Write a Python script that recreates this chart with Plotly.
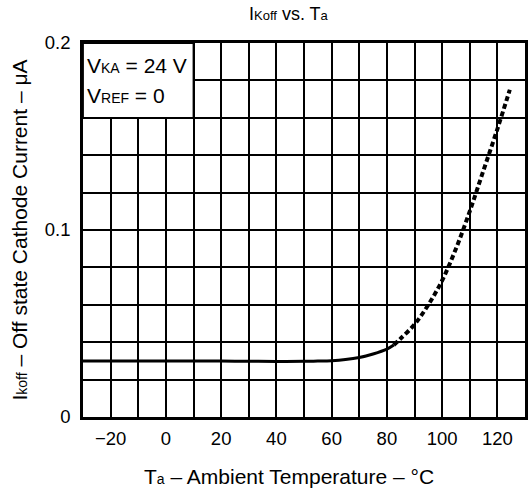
import plotly.graph_objects as go

# Data
temp_solid = [-30, -20, -10, 0, 10, 20, 30, 40, 50, 55, 60, 65, 70, 75, 80, 82.5]
ikoff_solid = [0.030, 0.030, 0.030, 0.030, 0.030, 0.0299, 0.0298, 0.0297, 0.0298, 0.0299,
               0.0301, 0.0307, 0.0318, 0.0337, 0.0363, 0.0385]
temp_dash = [82.5, 85, 90, 95, 100, 105, 110, 115, 120, 124.5]
ikoff_dash = [0.0385, 0.0420, 0.0495, 0.0600, 0.0730, 0.0900, 0.1100, 0.1320, 0.1540, 0.1750]

x_grid = [-30, -20, -10, 0, 10, 20, 30, 40, 50, 60, 70, 80, 90, 100, 110, 120, 130]
x_labels = ["", "\u221220", "", "0", "", "20", "", "40", "", "60", "", "80", "", "100", "", "120", ""]
y_grid = [0, 0.02, 0.04, 0.06, 0.08, 0.1, 0.12, 0.14, 0.16, 0.18, 0.2]
y_labels = ["0", "", "", "", "", "0.1", "", "", "", "", "0.2"]

FONT = "Liberation Sans, Arial, sans-serif"
SUB = "<span style='font-size:%dpx'>%s</span>"

L, R, T, B = 83, 2, 43, 78
W, H = 530, 495
PW = W - L - R

fig = go.Figure()
fig.add_trace(go.Scatter(x=temp_solid, y=ikoff_solid, mode="lines",
                         line=dict(color="black", width=3, shape="spline"),
                         showlegend=False, hoverinfo="skip"))
fig.add_trace(go.Scatter(x=temp_dash, y=ikoff_dash, mode="lines",
                         line=dict(color="black", width=4, dash="5px,3px", shape="spline"),
                         showlegend=False, hoverinfo="skip"))

# white box for conditions
fig.add_shape(type="rect", xref="x", yref="y", x0=-30, x1=10, y0=0.16, y1=0.2,
              fillcolor="white", line=dict(color="black", width=1.8), layer="above")
fig.add_annotation(xref="x", yref="y", x=-29.3, y=0.188, xanchor="left", yanchor="middle",
                   text="V" + SUB % (14, "KA") + " = 24 V", showarrow=False,
                   font=dict(family=FONT, size=21, color="black"))
fig.add_annotation(xref="x", yref="y", x=-29.3, y=0.172, xanchor="left", yanchor="middle",
                   text="V" + SUB % (14, "REF") + " = 0", showarrow=False,
                   font=dict(family=FONT, size=21, color="black"))

# title
fig.add_annotation(xref="paper", yref="paper", x=(290 - L) / PW, y=1.0, yshift=29,
                   xanchor="center", yanchor="middle", showarrow=False,
                   text="I" + SUB % (13, "Koff") + " vs. T" + SUB % (13, "a"),
                   font=dict(family=FONT, size=18, color="black"))

# x-axis title (placed as in the reference, slightly left of plot centre)
fig.add_annotation(xref="paper", yref="paper", x=(290 - L) / PW, y=0, yshift=-59,
                   xanchor="center", yanchor="middle", showarrow=False,
                   text="T" + SUB % (14, "a") + " \u2013 Ambient Temperature \u2013 \u00b0C",
                   font=dict(family=FONT, size=21, color="black"))

axis_common = dict(showline=True, linecolor="black", linewidth=2.5, mirror=True,
                   showgrid=True, gridcolor="black", gridwidth=1.6, zeroline=False,
                   ticks="", tickfont=dict(family=FONT, size=18.5, color="black"),
                   tickmode="array")

fig.update_xaxes(range=[-30, 130], tickvals=x_grid, ticktext=x_labels, ticklabelstandoff=3,
                 **axis_common)
fig.update_yaxes(range=[0, 0.2], tickvals=y_grid, ticktext=y_labels, ticklabelstandoff=6,
                 title=dict(text="I" + SUB % (14, "koff") + " \u2013 Off state Cathode Current \u2013 \u03bcA",
                            font=dict(family=FONT, size=21, color="black"), standoff=12),
                 **axis_common)

fig.update_layout(width=W, height=H, margin=dict(l=L, r=R, t=T, b=B),
                  plot_bgcolor="white", paper_bgcolor="white")

fig.write_html("out.html")
